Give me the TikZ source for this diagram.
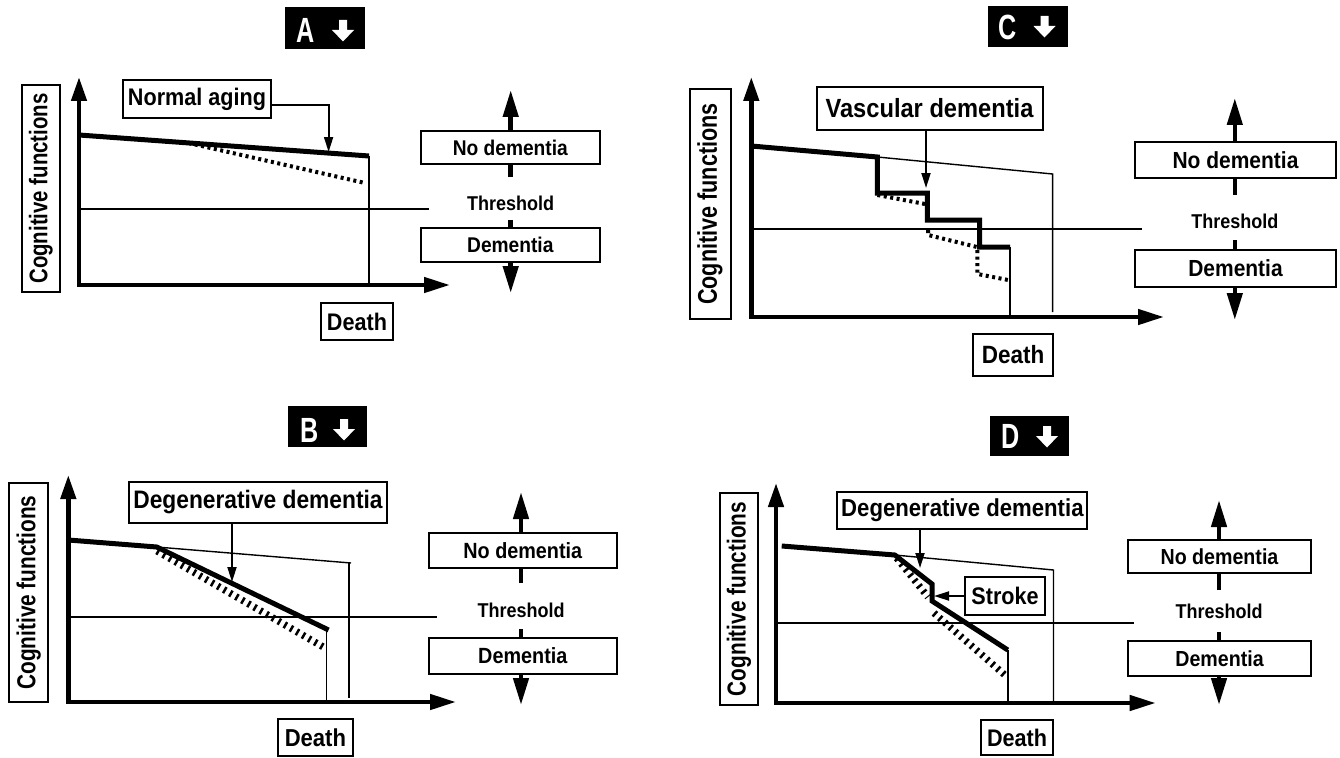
\documentclass[tikz,border=0pt]{standalone}
\usepackage{fontspec}
\setmainfont{Liberation Sans}[FakeStretch=0.9]
\newfontfamily\ttlfont{Liberation Sans}[FakeStretch=0.72]
\newfontfamily\cffont{Liberation Sans}[FakeStretch=0.8]
\usepackage{tikz}
\usetikzlibrary{arrows.meta}
\newcommand{\fsz}[1]{\fontsize{#1}{#1}\selectfont\bfseries}

\begin{document}
\begin{tikzpicture}[
  x=1pt, y=-1pt,
  box/.style={draw, line width=2pt, fill=white, inner sep=0pt},
  axis/.style={line width=4.5pt, {Triangle[length=24pt,width=15pt]}-{Triangle[length=26pt,width=15pt]}},
  leg/.style={line width=4.5pt, -{Triangle[length=27pt,width=15pt]}},
  call/.style={line width=1.8pt, -{Triangle[length=15pt,width=9pt]}},
  curve/.style={line width=5pt},
  thinln/.style={line width=1.4pt},
  dotln/.style={line width=4pt, dash pattern=on 3pt off 3.5pt},
  hatch/.style={line width=7pt, dash pattern=on 2.5pt off 4.5pt},
  dn/.pic={\fill[white] (-4,-11) -- (4,-11) -- (4,-1) -- (11,-1) -- (0,10.5) -- (-11,-1) -- (-4,-1) -- cycle;}
]
  \useasboundingbox (0,0) rectangle (1340,757);

  % titles
  \foreach \L/\xa/\ya/\xb/\yb/\lx/\ly/\ax/\ay in {
    A/285/7/365/49/306/30/343/31,
    B/288/406/367/447/309.5/430/344/430,
    C/988/6/1068/47/1008/27/1044.5/27,
    D/990/416/1069/456/1011/436/1047/437} {
    \fill (\xa,\ya) rectangle (\xb,\yb);
    \node[font=\ttlfont\fsz{35}, text=white, inner sep=0pt] (tl\L) at (\lx,\ly) {\L};
    \pic at (\ax,\ay) {dn};
  }

  % legends
  \foreach \p/\cx/\bl/\br/\tp/\nt/\nb/\th/\dt/\db/\bt/\us/\ls/\fn in {
    A/510.7/420.6/600/90/131/164/203/228/262/293/177/220/21.3,
    B/521/428.6/617/492/533/568/610/638/674/705/583/629/22,
    C/1234.8/1135/1336/98/142/178/221/250/287/320/195/240/23.3,
    D/1219/1128/1311/500/540/573/611/641/676/705/590/632/21.8} {
    \pgfmathsetmacro{\bw}{\br-\bl}
    \pgfmathsetmacro{\bx}{(\br+\bl)/2}
    \pgfmathsetmacro{\nh}{\nb-\nt}
    \pgfmathsetmacro{\ny}{(\nb+\nt)/2}
    \pgfmathsetmacro{\dh}{\db-\dt}
    \pgfmathsetmacro{\dy}{(\db+\dt)/2}
    \coordinate (up\p) at (\cx,\us);
    \coordinate (upT\p) at (\cx,\tp);
    \coordinate (lo\p) at (\cx,\ls);
    \coordinate (loT\p) at (\cx,\bt);
    \draw[leg] (up\p) -- (upT\p);
    \draw[leg] (lo\p) -- (loT\p);
    \node[box, minimum width=\bw pt, minimum height=\nh pt, font=\fsz{\fn}] (no\p) at (\bx,\ny) {No dementia};
    \node[box, minimum width=\bw pt, minimum height=\dh pt, font=\fsz{\fn}] (de\p) at (\bx,\dy) {Dementia};
    \node[font=\fsz{20}] (th\p) at (\cx,\th) {Threshold};
  }

  % panel A
  \coordinate (oA) at (79,285);
  \coordinate (yA) at (79,77);
  \coordinate (xA) at (450,285);
  \draw[thinln] (79,209) -- (428.6,209);
  \draw[thinln] (369,156) -- (369,285);
  \draw[dotln] (188.5,143) -- (365,183);
  \draw[curve] (79,135) -- (369,156);
  \draw[axis] (yA) -- (oA) -- (xA);
  \node[box, rotate=90, minimum width=207pt, minimum height=37.5pt, font=\cffont\fsz{25.5}] (cfA) at (40.8,188.5) {Cognitive functions};
  \node[box, minimum width=148pt, minimum height=38pt, font=\fsz{24}] (naA) at (197,99) {Normal aging};
  \coordinate (tgA) at (328.6,152);
  \draw[call] ([shift={(0,6)}]naA.east) -| (tgA);
  \node[box, minimum width=71.5pt, minimum height=37pt, font=\fsz{24}] (dtA) at (357,321.5) {Death};

  % panel B
  \coordinate (oB) at (68.3,702);
  \coordinate (yB) at (68.3,475);
  \coordinate (xB) at (456,702);
  \draw[thinln] (68.3,617) -- (436.5,617);
  \draw[thinln] (156.7,547) -- (351,563);
  \draw[thinln] (349,563) -- (349,698);
  \draw[thinln] (326.7,630) -- (326.7,702);
  \draw[hatch] (157,551) -- (325,648);
  \draw[curve] (68.3,540) -- (156.7,547) -- (328.6,630);
  \draw[axis] (yB) -- (oB) -- (xB);
  \node[box, rotate=90, minimum width=219pt, minimum height=39.7pt, font=\cffont\fsz{26}] (cfB) at (28.6,592.5) {Cognitive functions};
  \node[box, minimum width=258pt, minimum height=41pt, font=\fsz{25.3}] (dgB) at (258,502.5) {Degenerative dementia};
  \coordinate (tgB) at (232,582);
  \draw[call] (dgB.south -| tgB) -- (tgB);
  \node[box, minimum width=75.4pt, minimum height=37pt, font=\fsz{24.5}] (dtB) at (315.4,737.5) {Death};

  % panel C
  \coordinate (oC) at (751.3,317);
  \coordinate (yC) at (751.3,77);
  \coordinate (xC) at (1164,317);
  \draw[thinln] (751.3,229) -- (1141.7,229);
  \draw[thinln] (877.4,157) -- (1052.6,174) -- (1052.6,312);
  \draw[thinln] (1010,247) -- (1010,317);
  \draw[dotln] (877.4,195) -- (925,204);
  \draw[dotln] (928,230) -- (928,235) -- (977,247);
  \draw[dotln] (977.4,250) -- (977.4,274) -- (1008,280);
  \draw[curve] (751.3,146) -- (877.4,157) -- (877.4,193) -- (927.4,193) -- (927.4,220) -- (979.6,220) -- (979.6,247) -- (1010,247);
  \draw[axis] (yC) -- (oC) -- (xC);
  \node[box, rotate=90, minimum width=230pt, minimum height=41pt, font=\cffont\fsz{27}] (cfC) at (710,204) {Cognitive functions};
  \node[box, minimum width=226pt, minimum height=43pt, font=\fsz{26.3}] (vdC) at (929.5,108.5) {Vascular dementia};
  \coordinate (tgC) at (926,188);
  \draw[call] (vdC.south -| tgC) -- (tgC);
  \node[box, minimum width=80.5pt, minimum height=42pt, font=\fsz{25}] (dtC) at (1013,355) {Death};

  % panel D
  \coordinate (oD) at (776,703);
  \coordinate (yD) at (776,483);
  \coordinate (xD) at (1155.7,703);
  \draw[thinln] (776,623) -- (1134,623);
  \draw[thinln] (894.8,555) -- (1053.5,570) -- (1053.5,703);
  \draw[thinln] (1007.8,650) -- (1007.8,703);
  \draw[hatch] (896.7,558) -- (928,597);
  \draw[hatch] (934,613) -- (1006,676);
  \draw[curve] (781.7,546) -- (894.8,555) -- (932,584) -- (932,601) -- (1007.8,650);
  \draw[axis] (yD) -- (oD) -- (xD);
  \node[box, rotate=90, minimum width=212pt, minimum height=37.8pt, font=\cffont\fsz{26}] (cfD) at (739,599) {Cognitive functions};
  \node[box, minimum width=250pt, minimum height=37pt, font=\fsz{24.6}] (dgD) at (962.4,510.5) {Degenerative dementia};
  \coordinate (tgD) at (920,568);
  \draw[call] (dgD.south -| tgD) -- (tgD);
  \node[box, minimum width=80pt, minimum height=38pt, font=\fsz{24}] (stD) at (1005,596) {Stroke};
  \coordinate (tgS) at (934,596);
  \draw[call] (stD.west) -- (tgS);
  \node[box, minimum width=72.5pt, minimum height=35pt, font=\fsz{24}] (dtD) at (1017,737.5) {Death};
\end{tikzpicture}
\end{document}
